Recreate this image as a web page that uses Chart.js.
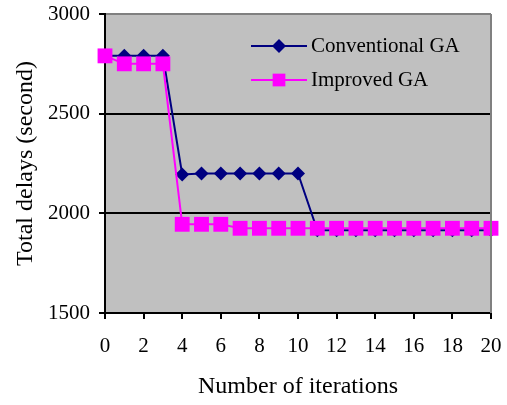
<!DOCTYPE html>
<html>
<head>
<meta charset="utf-8">
<script src="https://cdn.jsdelivr.net/npm/chart.js@4/dist/chart.umd.min.js"></script>
<style>
  html, body { margin: 0; padding: 0; background: #fff; }
  #wrap { width: 507px; height: 405px; }
</style>
</head>
<body>
<div id="wrap"><canvas id="chart-delays"></canvas></div>
<script>
  // iterations along the x axis
  const iterations = [0, 1, 2, 3, 4, 5, 6, 7, 8, 9, 10, 11, 12, 13, 14, 15, 16, 17, 18, 19, 20];

  // total delays (second)
  const conventionalGA = [2790, 2790, 2790, 2790, 2195, 2200, 2200, 2200, 2200, 2200, 2200,
                          1915, 1915, 1915, 1915, 1915, 1915, 1915, 1915, 1915, 1915];
  const improvedGA = [2790, 2750, 2750, 2750, 1945, 1945, 1945, 1925, 1925, 1925, 1925,
                      1925, 1925, 1925, 1925, 1925, 1925, 1925, 1925, 1925, 1925];

  const seriesNames = ["Conventional GA", "Improved GA"];
  const yTicks = [1500, 2000, 2500, 3000];
  const xTicks = [0, 2, 4, 6, 8, 10, 12, 14, 16, 18, 20];

  const FONT = "'Liberation Serif', 'Times New Roman', serif";

  /* ===== plot background, right frame and in-plot legend ===== */
  const plotFrame = {
    id: "plotFrame",
    beforeDraw(chart) {
      const { ctx, chartArea: a } = chart;
      ctx.save();
      ctx.fillStyle = "#C0C0C0";
      ctx.fillRect(a.left, a.top, a.right - a.left, a.bottom - a.top);
      ctx.restore();
    },
    afterDatasetsDraw(chart) {
      const { ctx, chartArea: a } = chart;
      ctx.save();
      ctx.strokeStyle = "#808080";
      ctx.lineWidth = 2;
      ctx.beginPath();
      ctx.moveTo(a.right, a.top);
      ctx.lineTo(a.right, a.bottom);
      ctx.stroke();

      // legend
      const rows = [46, 80];
      chart.data.datasets.forEach((ds, i) => {
        const y = rows[i];
        ctx.strokeStyle = ds.borderColor;
        ctx.lineWidth = 2;
        ctx.beginPath();
        ctx.moveTo(251, y);
        ctx.lineTo(307, y);
        ctx.stroke();
        ctx.fillStyle = ds.pointBackgroundColor;
        ctx.strokeStyle = ds.pointBorderColor;
        Chart.helpers.drawPoint(ctx, {
          pointStyle: ds.pointStyle,
          radius: ds.pointStyle === "rect" ? 9 : 7,
          rotation: 0,
          borderWidth: 0
        }, 279, y);
        ctx.fillStyle = "#000";
        ctx.font = "21px " + FONT;
        ctx.textBaseline = "middle";
        ctx.textAlign = "left";
        ctx.fillText(ds.label, 311, y);
      });
      ctx.restore();
    }
  };

  const canvasDelays = document.getElementById("chart-delays").getContext("2d");

  new Chart(canvasDelays, {
    type: "line",
    data: {
      datasets: [{
        label: seriesNames[0],
        data: iterations.map((x, i) => ({ x, y: conventionalGA[i] })),
        borderColor: "#000080",
        borderWidth: 2,
        pointStyle: "rectRot",
        pointRadius: 7,
        pointBackgroundColor: "#000080",
        pointBorderColor: "#000080",
        pointBorderWidth: 0,
        tension: 0,
        clip: false,
        order: 1
      }, {
        label: seriesNames[1],
        data: iterations.map((x, i) => ({ x, y: improvedGA[i] })),
        borderColor: "#FF00FF",
        borderWidth: 2,
        pointStyle: "rect",
        pointRadius: 10.5,
        pointBackgroundColor: "#FF00FF",
        pointBorderColor: "#FF00FF",
        pointBorderWidth: 0,
        tension: 0,
        clip: false,
        order: 0
      }]
    },
    options: {
      responsive: true,
      maintainAspectRatio: false,
      animation: false,
      layout: { autoPadding: false, padding: { top: 14, right: 16, left: 0, bottom: 0 } },
      plugins: { legend: { display: false }, tooltip: { enabled: false } },
      scales: {
        x: {
          type: "linear",
          min: 0,
          max: 20,
          afterBuildTicks: (s) => { s.ticks = xTicks.map(v => ({ value: v })); },
          afterFit: (s) => { s.height = 92; s.paddingLeft = 0; s.paddingRight = 0; },
          grid: { drawOnChartArea: false, drawTicks: true, tickLength: 6, tickColor: "#000", lineWidth: 2 },
          border: { color: "#000", width: 2 },
          ticks: {
            color: "#000",
            font: { family: FONT, size: 21 },
            padding: 15,
            maxRotation: 0,
            callback: (v) => String(v)
          },
          title: {
            display: true,
            text: "Number of iterations",
            color: "#000",
            font: { family: FONT, size: 24 },
            padding: { top: 0, bottom: 4 }
          }
        },
        y: {
          min: 1500,
          max: 3000,
          afterBuildTicks: (s) => { s.ticks = yTicks.map(v => ({ value: v })); },
          afterFit: (s) => { s.width = 105; s.paddingTop = 0; s.paddingBottom = 0; },
          grid: {
            color: (c) => c.tick && c.tick.value === 3000 ? "#808080" : "#000",
            tickColor: "#000",
            lineWidth: 2,
            drawTicks: true,
            tickLength: 6
          },
          border: { color: "#000", width: 2 },
          ticks: {
            color: "#000",
            font: { family: FONT, size: 21 },
            padding: 9,
            callback: (v) => String(v)
          },
          title: {
            display: true,
            text: "Total delays (second)",
            color: "#000",
            font: { family: FONT, size: 24 },
            padding: { top: 11, bottom: 0 }
          }
        }
      }
    },
    plugins: [plotFrame]
  });
</script>
</body>
</html>
